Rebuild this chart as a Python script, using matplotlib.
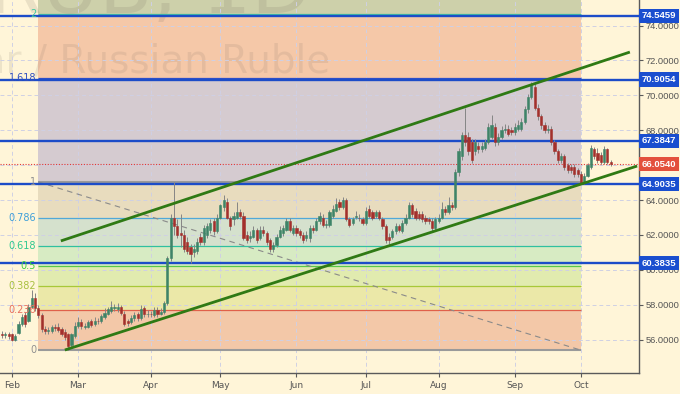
import matplotlib
matplotlib.use('Agg')
import matplotlib.pyplot as plt
import numpy as np
import pandas as pd

# ---------------- data ----------------
dates = pd.bdate_range('2018-01-29', periods=185)

opens = [56.35, 56.25, 56.30, 56.30, 56.00, 56.40, 56.90, 57.40, 57.10, 57.90,
         58.40, 57.80, 57.40, 56.60, 56.50, 56.50, 56.70, 56.75, 56.60, 56.45,
         56.30, 55.70, 56.20, 56.80, 57.00, 56.75, 56.75, 57.05, 56.90, 57.10,
         57.05, 57.30, 57.50, 57.65, 57.80, 57.75, 57.85, 57.50, 57.05, 57.00,
         57.25, 57.45, 57.25, 57.80, 57.45, 57.50, 57.40, 57.70, 57.50, 57.60,
         58.10, 60.70, 63.00, 62.50, 62.10, 62.00, 61.60, 61.30, 61.00, 61.10,
         61.90, 61.60, 62.00, 62.30, 62.80, 62.20, 63.00, 63.60, 63.90, 63.00,
         62.90, 63.00, 63.30, 63.10, 62.00, 61.80, 61.90, 62.30, 61.80, 62.30,
         62.10, 61.70, 61.20, 61.40, 61.90, 62.10, 62.30, 62.80, 62.10, 62.40,
         62.20, 62.00, 61.80, 61.80, 62.40, 62.30, 62.80, 63.00, 62.60, 62.60,
         63.10, 63.40, 63.90, 63.60, 64.00, 62.90, 62.70, 63.05, 63.00, 62.90,
         62.70, 63.50, 63.30, 63.10, 63.30, 62.90, 62.50, 61.90, 61.90, 62.20,
         62.50, 62.20, 62.70, 63.00, 63.70, 63.40, 63.20, 63.20, 63.00, 62.90,
         62.80, 62.40, 62.80, 63.00, 63.50, 63.30, 63.70, 63.60, 65.60, 66.50,
         67.70, 67.60, 67.30, 66.80, 67.10, 66.90, 67.00, 67.30, 67.60, 68.20,
         67.30, 67.60, 68.00, 68.10, 68.00, 67.90, 68.10, 68.10, 68.50, 69.20,
         69.90, 70.50, 69.30, 68.80, 68.30, 68.00, 68.10, 67.30, 66.80, 66.30,
         66.50, 66.00, 65.90, 65.90, 65.70, 65.50, 65.00, 65.40, 65.90, 66.90,
         66.70, 66.60, 66.20, 66.90, 66.20]

closes = [56.25, 56.30, 56.20, 56.00, 56.20, 56.90, 57.30, 56.90, 57.90, 58.40,
          57.80, 57.40, 56.60, 56.50, 56.55, 56.70, 56.65, 56.55, 56.30, 56.15,
          55.65, 56.30, 56.80, 57.00, 56.80, 56.78, 57.00, 56.85, 57.10, 57.05,
          57.35, 57.55, 57.75, 57.90, 57.85, 57.90, 57.55, 56.90, 56.95, 57.25,
          57.40, 57.25, 57.75, 57.45, 57.50, 57.45, 57.70, 57.45, 57.60, 58.10,
          60.70, 63.00, 62.50, 62.00, 62.00, 61.20, 61.10, 60.90, 61.20, 61.60,
          61.60, 62.40, 62.50, 62.70, 62.20, 63.00, 63.70, 64.00, 63.00, 62.50,
          63.10, 63.30, 63.10, 61.80, 61.70, 61.95, 62.30, 61.70, 62.30, 62.10,
          61.60, 61.20, 61.40, 61.90, 62.30, 62.40, 62.80, 62.30, 62.40, 62.10,
          62.00, 61.70, 62.00, 62.40, 62.30, 62.80, 63.10, 62.60, 62.65, 63.30,
          63.50, 63.80, 63.60, 64.00, 62.90, 62.60, 62.90, 63.10, 62.95, 62.70,
          63.40, 63.10, 63.00, 63.30, 63.00, 62.50, 61.70, 61.70, 62.20, 62.50,
          62.30, 62.70, 63.00, 63.70, 63.20, 63.00, 63.00, 62.90, 62.80, 62.80,
          62.40, 62.90, 63.00, 63.50, 63.30, 63.70, 63.60, 65.60, 66.80, 67.70,
          67.30, 66.80, 66.30, 67.30, 66.90, 67.10, 67.30, 68.20, 68.30, 67.30,
          67.60, 68.00, 68.10, 67.80, 67.90, 68.20, 68.30, 68.50, 69.20, 69.90,
          70.60, 69.30, 68.80, 68.30, 68.00, 68.10, 67.30, 66.80, 66.30, 66.50,
          65.90, 65.70, 65.70, 65.50, 65.50, 64.95, 65.40, 66.00, 67.00, 66.50,
          66.30, 66.20, 66.90, 66.20, 66.05]

highs = [56.50, 56.45, 56.45, 56.40, 56.35, 57.05, 57.50, 57.60, 58.05, 58.85,
         58.70, 58.00, 57.55, 56.80, 56.70, 56.85, 56.90, 56.95, 56.75, 56.60,
         56.40, 56.40, 57.00, 57.30, 57.20, 56.95, 57.15, 57.20, 57.30, 57.25,
         57.50, 57.80, 57.90, 58.20, 58.05, 58.10, 58.00, 57.65, 57.20, 57.40,
         57.60, 57.60, 58.00, 57.95, 57.70, 57.65, 57.85, 57.85, 57.80, 58.20,
         60.80, 63.20, 65.05, 62.90, 63.20, 62.30, 61.90, 61.50, 61.50, 61.80,
         62.10, 62.55, 62.70, 62.90, 63.00, 63.20, 63.80, 64.30, 64.10, 63.10,
         63.30, 63.90, 63.50, 63.30, 62.20, 62.20, 62.50, 62.40, 62.50, 62.50,
         62.20, 61.85, 61.60, 62.05, 62.50, 62.60, 63.00, 62.95, 62.55, 62.55,
         62.35, 62.15, 62.20, 62.60, 62.60, 62.95, 63.30, 63.20, 62.85, 63.45,
         63.70, 64.10, 64.05, 64.20, 64.10, 63.05, 63.05, 63.35, 63.20, 63.05,
         63.60, 63.70, 63.45, 63.45, 63.45, 63.05, 62.65, 62.10, 62.35, 62.70,
         62.65, 62.85, 63.20, 63.90, 63.85, 63.55, 63.40, 63.35, 63.15, 63.05,
         62.95, 63.05, 63.20, 63.90, 63.65, 64.20, 63.90, 65.80, 67.00, 67.90,
         69.30, 67.90, 67.50, 67.50, 67.30, 67.30, 67.50, 68.40, 68.90, 68.40,
         67.85, 68.25, 68.35, 68.30, 68.20, 68.40, 68.60, 68.70, 69.40, 70.10,
         70.75, 70.70, 69.50, 68.95, 68.50, 68.30, 68.25, 67.45, 66.95, 66.70,
         66.65, 66.15, 66.05, 66.05, 65.85, 65.65, 65.55, 66.15, 67.15, 67.05,
         67.00, 66.75, 67.10, 67.00, 66.30]

lows = [56.10, 56.10, 56.05, 55.90, 55.90, 56.30, 56.80, 56.75, 57.00, 57.80,
        57.65, 57.25, 56.45, 56.35, 56.35, 56.40, 56.50, 56.45, 56.20, 56.00,
        55.40, 55.55, 56.10, 56.65, 56.60, 56.60, 56.65, 56.70, 56.80, 56.90,
        56.95, 57.20, 57.40, 57.55, 57.65, 57.60, 57.40, 56.80, 56.80, 56.90,
        57.10, 57.10, 57.15, 57.30, 57.30, 57.30, 57.30, 57.30, 57.40, 57.50,
        58.00, 60.50, 62.00, 61.80, 61.30, 61.00, 60.90, 60.40, 60.75, 60.90,
        61.40, 61.45, 61.80, 62.10, 62.00, 62.10, 62.90, 63.40, 62.90, 62.30,
        62.60, 62.90, 62.90, 61.70, 61.55, 61.60, 61.80, 61.55, 61.70, 61.95,
        61.45, 61.05, 61.05, 61.30, 61.80, 61.95, 62.20, 62.15, 62.00, 61.95,
        61.85, 61.55, 61.65, 61.60, 62.10, 62.20, 62.65, 62.45, 62.40, 62.45,
        63.00, 63.30, 63.45, 63.50, 62.80, 62.45, 62.55, 62.90, 62.80, 62.55,
        62.60, 63.00, 62.85, 62.95, 62.85, 62.35, 61.55, 61.50, 61.75, 62.05,
        62.15, 62.10, 62.60, 62.90, 63.05, 62.85, 62.85, 62.75, 62.65, 62.65,
        62.25, 62.30, 62.70, 62.90, 63.15, 63.20, 63.45, 63.50, 65.40, 66.30,
        67.10, 66.60, 66.10, 66.60, 66.70, 66.75, 66.85, 67.20, 67.50, 67.10,
        67.15, 67.50, 67.85, 67.65, 67.70, 67.75, 67.95, 67.95, 68.35, 69.00,
        69.80, 69.15, 68.60, 68.10, 67.85, 67.85, 67.15, 66.65, 66.15, 66.15,
        65.75, 65.55, 65.55, 65.35, 65.35, 64.90, 64.90, 65.30, 65.80, 66.35,
        66.15, 66.05, 66.05, 66.05, 65.95]

month_labels = ['Feb', 'Mar', 'Apr', 'May', 'Jun', 'Jul', 'Aug', 'Sep', 'Oct']
month_numbers = [2, 3, 4, 5, 6, 7, 8, 9, 10]
price_ticks = [56, 58, 60, 62, 64, 66, 68, 70, 72, 74]
level_values = [74.5459, 70.9054, 67.3847, 64.9035, 60.3835]
last_price = 66.0540

fib_ratios = [0, 0.236, 0.382, 0.5, 0.618, 0.786, 1, 1.618, 2]
fib_labels = ['0', '0.236', '0.382', '0.5', '0.618', '0.786', '1', '1.618', '2']
fib_low, fib_high = 55.40, 65.04
fib_x = [11.0, 175.0]           # bar positions of the fib anchors

channel_upper_x = [17.8, 189.8]
channel_upper_y = [61.66, 72.48]
channel_lower_x = [19.0, 192.0]
channel_lower_y = [55.41, 65.95]

# ---------------- styling ----------------
BG = '#fff5d8'
fib_line_colors = ['#9a9a9a', '#e0604a', '#a8c838', '#58c848', '#30c0a0',
                   '#50a8d8', '#9a9a9a', '#3050c8', '#40c0a0']
fib_text_colors = ['#909090', '#e8705e', '#a8c040', '#40d040', '#30c890',
                   '#40a0d8', '#909090', '#3050c0', '#40c8a0']
fib_fill_colors = ['#f3c8a8', '#ebe8a8', '#e1ebaf', '#d7ebc3', '#d5e1cd',
                   '#e8dcbe', '#d5cbd0', '#f5c8a8']
top_fill_color = '#cdd0aa'

fig = plt.figure(figsize=(6.8, 3.94), dpi=100, facecolor=BG)
ax = fig.add_axes([0, 21 / 394, 639 / 680, 373 / 394])
ax.set_facecolor(BG)

x = np.arange(len(dates))
ax.set_xlim(-0.6, 192.56)
ax.set_ylim(54.093, 75.4625)

# fib bands
fib_prices = [fib_low + r * (fib_high - fib_low) for r in fib_ratios]
for i in range(len(fib_prices) - 1):
    ax.fill_between(fib_x, fib_prices[i], fib_prices[i + 1],
                    color=fib_fill_colors[i], lw=0, zorder=0.2)
ax.fill_between(fib_x, fib_prices[-1], 80, color=top_fill_color, lw=0, zorder=0.2)
for p, lc, tc, lab, r in zip(fib_prices, fib_line_colors, fib_text_colors,
                             fib_labels, fib_ratios):
    lw = 1.5 if r in (0, 1) else 0.9
    ax.plot(fib_x, [p, p], color=lc, lw=lw, zorder=1.0, solid_capstyle='butt')
    ax.text(fib_x[0] - 0.7, p, lab, color=tc, fontsize=7, ha='right',
            va='center', zorder=7)
# fib diagonal
ax.plot(fib_x, [fib_high, fib_low], color='#8a8a8a', lw=0.8,
        linestyle=(0, (5, 4)), zorder=1.1)

# watermark
ax.text(311 / 639, 1 - 13 / 373, 'USDRUB, 1D', transform=ax.transAxes,
        fontsize=56, color='#6e6458', alpha=0.14, ha='right', va='baseline',
        zorder=0.3)
ax.text(330 / 639, 1 - 72 / 373, 'US Dollar / Russian Ruble',
        transform=ax.transAxes, fontsize=28, color='#6e6458', alpha=0.12,
        ha='right', va='baseline', zorder=0.3)

# grid
ax.set_axisbelow(True)
ax.grid(True, color='#cfd0e4', linestyle=(0, (4, 3)), linewidth=0.7)

# horizontal levels
for v in level_values:
    ax.axhline(v, color='#1c4cc8', lw=1.7, zorder=2.8)
    ax.text(1.004, v, f'{v:.4f}', transform=ax.get_yaxis_transform(),
            fontsize=6.8, fontweight='bold', family='Liberation Sans',
            color='white', ha='left', va='center', clip_on=False, zorder=8,
            bbox=dict(boxstyle='square,pad=0.28', fc='#1a4ecf', ec='none'))
ax.axhline(last_price, color='#e03838', lw=0.8, linestyle=(0, (1, 1.5)),
           zorder=2.9)
ax.text(1.004, last_price, f'{last_price:.4f}', transform=ax.get_yaxis_transform(),
        fontsize=6.8, fontweight='bold', family='Liberation Sans',
        color='white', ha='left', va='center', clip_on=False, zorder=8,
        bbox=dict(boxstyle='square,pad=0.28', fc='#e3503c', ec='none'))

# channel
ax.plot(channel_upper_x, channel_upper_y, color='#2f7a14', lw=2.0, zorder=5,
        solid_capstyle='butt')
ax.plot(channel_lower_x, channel_lower_y, color='#2f7a14', lw=2.0, zorder=5,
        solid_capstyle='butt')

# candles
o = np.array(opens); c = np.array(closes)
up = c >= o
colors = np.where(up, '#3e8468', '#a3302c')
ax.vlines(x, lows, highs, color='#858585', lw=0.7, zorder=3)
ax.bar(x, c - o, bottom=o, width=0.66, color=colors, edgecolor=colors,
       linewidth=0.4, zorder=4)

# axes
for s in ('left', 'top'):
    ax.spines[s].set_visible(False)
for s in ('right', 'bottom'):
    ax.spines[s].set_color('#5a5a5a')
    ax.spines[s].set_linewidth(1.0)
ax.yaxis.tick_right()
ax.set_yticks(price_ticks)
ax.set_yticklabels([f'{t:.4f}' for t in price_ticks], family='Liberation Sans')
ax.tick_params(axis='y', direction='out', length=3, pad=1.5, labelsize=6.7,
               colors='#5a5a5a', labelcolor='#555555')
month_pos = [int(np.argmax(dates.month == m)) for m in month_numbers]
ax.set_xticks(month_pos)
ax.set_xticklabels(month_labels)
ax.tick_params(axis='x', direction='out', length=3, pad=3, labelsize=6.5,
               colors='#5a5a5a', labelcolor='#555555')

fig.savefig('out.png', dpi=100, facecolor=BG)
